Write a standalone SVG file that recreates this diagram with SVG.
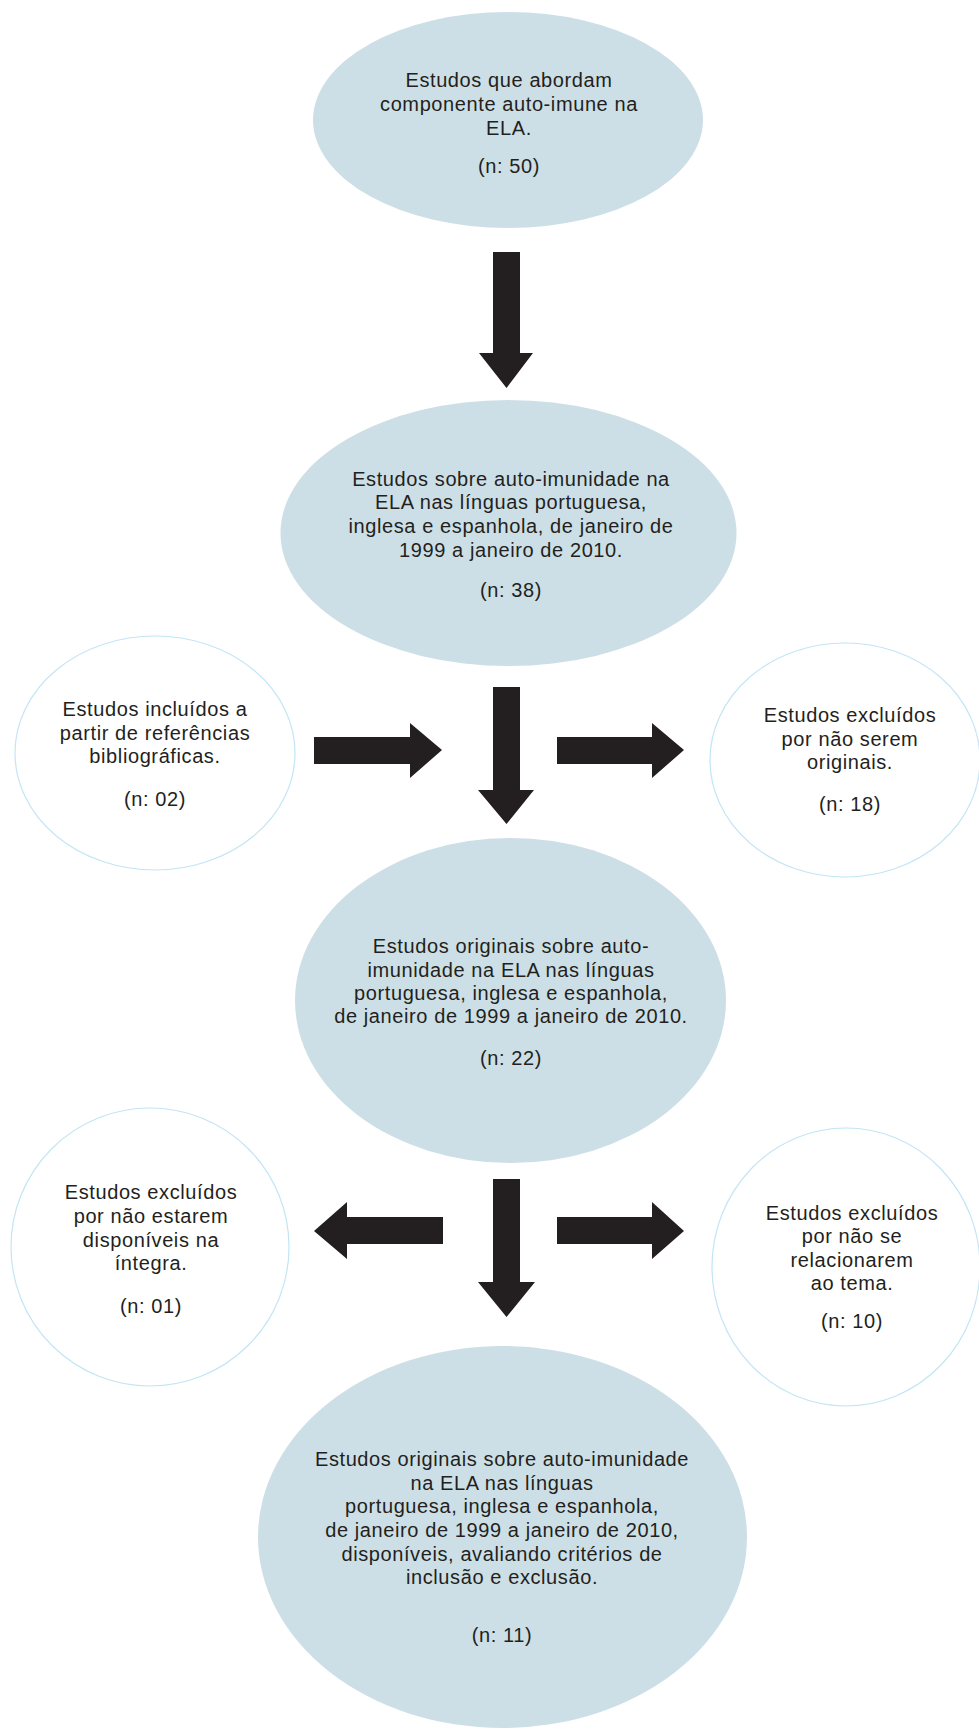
<svg xmlns="http://www.w3.org/2000/svg" width="979" height="1729" viewBox="0 0 979 1729">
<style>
.main{fill:#cddfe6;stroke:none}
.side{fill:#ffffff;stroke:#c3e5f5;stroke-width:1.2}
.t{font-family:"Liberation Sans",Arial,sans-serif;font-size:20px;letter-spacing:0.6px;fill:#231f20;text-anchor:middle}
.arr{fill:#231f20}
</style>
<rect width="979" height="1729" fill="#ffffff"/>
<g id="n1">
<ellipse class="main" cx="508" cy="120" rx="195" ry="108"/>
<text class="t" x="509" y="87">Estudos que abordam</text>
<text class="t" x="509" y="111">componente auto-imune na</text>
<text class="t" x="509" y="135">ELA.</text>
<text class="t" x="509" y="173">(n: 50)</text>
</g>
<g id="n2">
<ellipse class="main" cx="508.5" cy="533" rx="228" ry="133"/>
<text class="t" x="511" y="486">Estudos sobre auto-imunidade na</text>
<text class="t" x="511" y="509">ELA nas línguas portuguesa,</text>
<text class="t" x="511" y="533">inglesa e espanhola, de janeiro de</text>
<text class="t" x="511" y="557">1999 a janeiro de 2010.</text>
<text class="t" x="511" y="597">(n: 38)</text>
</g>
<g id="n3">
<ellipse class="side" cx="155" cy="753" rx="140" ry="117"/>
<text class="t" x="155" y="716">Estudos incluídos a</text>
<text class="t" x="155" y="740">partir de referências</text>
<text class="t" x="155" y="763">bibliográficas.</text>
<text class="t" x="155" y="806">(n: 02)</text>
</g>
<g id="n4">
<ellipse class="side" cx="845" cy="760" rx="135" ry="117"/>
<text class="t" x="850" y="722">Estudos excluídos</text>
<text class="t" x="850" y="746">por não serem</text>
<text class="t" x="850" y="769">originais.</text>
<text class="t" x="850" y="811">(n: 18)</text>
</g>
<g id="n5">
<ellipse class="main" cx="510.5" cy="1000.5" rx="215.5" ry="162.5"/>
<text class="t" x="511" y="953">Estudos originais sobre auto-</text>
<text class="t" x="511" y="977">imunidade na ELA nas línguas</text>
<text class="t" x="511" y="1000">portuguesa, inglesa e espanhola,</text>
<text class="t" x="511" y="1023">de janeiro de 1999 a janeiro de 2010.</text>
<text class="t" x="511" y="1065">(n: 22)</text>
</g>
<g id="n6">
<ellipse class="side" cx="150" cy="1247" rx="139" ry="139"/>
<text class="t" x="151" y="1199">Estudos excluídos</text>
<text class="t" x="151" y="1223">por não estarem</text>
<text class="t" x="151" y="1247">disponíveis na</text>
<text class="t" x="151" y="1270">íntegra.</text>
<text class="t" x="151" y="1313">(n: 01)</text>
</g>
<g id="n7">
<ellipse class="side" cx="846" cy="1267" rx="134" ry="139"/>
<text class="t" x="852" y="1220">Estudos excluídos</text>
<text class="t" x="852" y="1243">por não se</text>
<text class="t" x="852" y="1267">relacionarem</text>
<text class="t" x="852" y="1290">ao tema.</text>
<text class="t" x="852" y="1328">(n: 10)</text>
</g>
<g id="n8">
<ellipse class="main" cx="502.5" cy="1537" rx="244.5" ry="191"/>
<text class="t" x="502" y="1466">Estudos originais sobre auto-imunidade</text>
<text class="t" x="502" y="1490">na ELA nas línguas</text>
<text class="t" x="502" y="1513">portuguesa, inglesa e espanhola,</text>
<text class="t" x="502" y="1537">de janeiro de 1999 a janeiro de 2010,</text>
<text class="t" x="502" y="1561">disponíveis, avaliando critérios de</text>
<text class="t" x="502" y="1584">inclusão e exclusão.</text>
<text class="t" x="502" y="1642">(n: 11)</text>
</g>
<g id="connectors">
<polygon class="arr" points="493,252 520,252 520,353 533,353 506.5,388 479,353 493,353"/>
<polygon class="arr" points="493,687 520,687 520,790 534,790 506.5,824 478,790 493,790"/>
<polygon class="arr" points="314,737 410,737 410,723 442,750 410,778 410,764 314,764"/>
<polygon class="arr" points="557,737 652,737 652,723 684,750 652,778 652,764 557,764"/>
<polygon class="arr" points="493,1179 520,1179 520,1282 535,1282 506.5,1317 478,1282 493,1282"/>
<polygon class="arr" points="443,1217 347,1217 347,1202 314,1231 347,1259 347,1244 443,1244"/>
<polygon class="arr" points="557,1217 652,1217 652,1202 684,1231 652,1259 652,1244 557,1244"/>
</g>
</svg>
